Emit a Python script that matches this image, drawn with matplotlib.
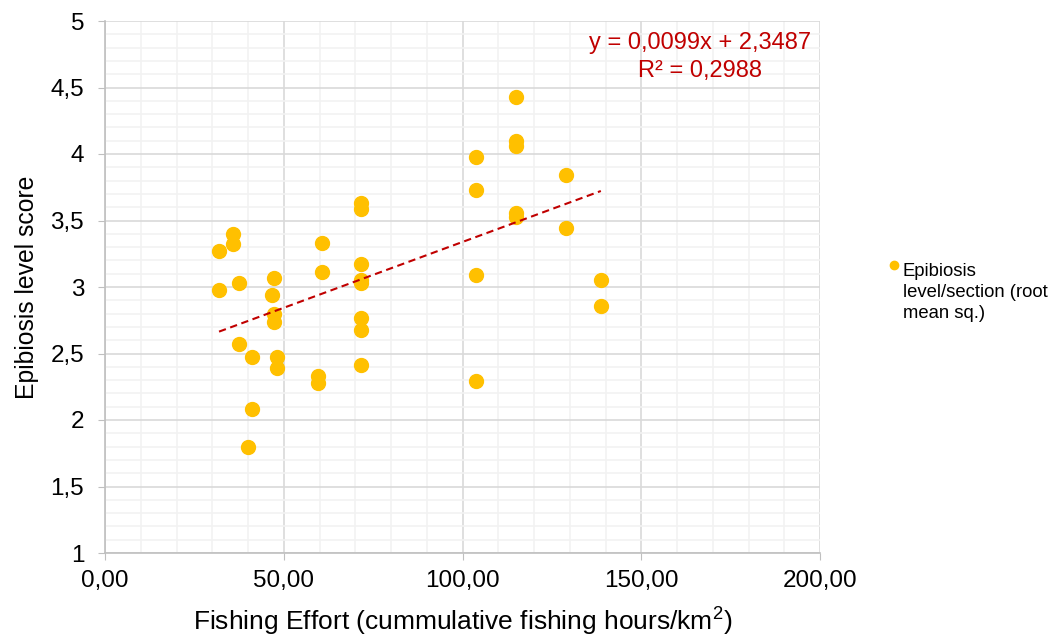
import numpy as np
import matplotlib
matplotlib.use("Agg")
import matplotlib.pyplot as plt
from matplotlib.ticker import MultipleLocator, FuncFormatter
from matplotlib.legend_handler import HandlerPathCollection

plt.rcParams["font.family"] = ["Liberation Sans", "DejaVu Sans"]
plt.rcParams["mathtext.fontset"] = "custom"
plt.rcParams["mathtext.rm"] = "Liberation Sans"
plt.rcParams["mathtext.default"] = "regular"

# Fishing effort (x) and epibiosis score (y)
effort = [31.9, 31.9, 35.8, 35.8, 37.5, 37.5, 41.1, 41.1, 40.0,
          47.3, 46.7, 47.3, 47.3, 48.1, 48.1,
          60.7, 60.7, 59.6, 59.6,
          71.6, 71.6, 71.6, 71.6, 71.6, 71.6, 71.6, 71.6,
          103.8, 103.8, 103.8, 103.8,
          115.0, 115.0, 115.0, 115.0, 115.0,
          129.0, 129.0, 138.7, 138.7]
score = [2.98, 3.27, 3.40, 3.32, 3.03, 2.57, 2.47, 2.08, 1.80,
         3.07, 2.94, 2.80, 2.74, 2.47, 2.39,
         3.33, 3.11, 2.33, 2.28,
         3.63, 3.59, 3.17, 3.05, 3.03, 2.77, 2.68, 2.41,
         3.98, 3.73, 3.09, 2.29,
         4.43, 4.10, 4.06, 3.56, 3.53,
         3.84, 3.44, 3.05, 2.86]

# trendline coefficients shown on the chart
slope = 0.0099
intercept = 2.3487
r2 = 0.2988

fig = plt.figure(figsize=(10.56, 6.41), dpi=100)
ax = fig.add_axes([105/1056, 1-553/641, 715/1056, 532/641])

ax.set_xlim(0, 200)
ax.set_ylim(1, 5)
ax.xaxis.set_major_locator(MultipleLocator(50))
ax.xaxis.set_minor_locator(MultipleLocator(10))
ax.yaxis.set_major_locator(MultipleLocator(0.5))
ax.yaxis.set_minor_locator(MultipleLocator(0.1))
ax.xaxis.set_major_formatter(FuncFormatter(lambda v, p: f"{v:.2f}".replace(".", ",")))
ax.yaxis.set_major_formatter(FuncFormatter(lambda v, p: f"{v:g}".replace(".", ",")))

ax.grid(which="minor", color="#f2f2f2", linewidth=1.2)
ax.grid(which="major", color="#d9d9d9", linewidth=1.2)
ax.set_axisbelow(True)
for s in ["top", "right"]:
    ax.spines[s].set_visible(False)
for s in ["left", "bottom"]:
    ax.spines[s].set_color("#bfbfbf")
    ax.spines[s].set_linewidth(1.2)
ax.tick_params(which="major", length=5, color="#bfbfbf", labelsize=17.5, labelcolor="#000000")
ax.tick_params(axis="y", pad=10)
ax.tick_params(axis="x", pad=7)
ax.tick_params(which="minor", length=0)

ax.scatter(effort, score, s=100, color="#FFC000", zorder=3,
           label="Epibiosis\nlevel/section (root\nmean sq.)")

xs = np.array([min(effort), max(effort)])
ax.plot(xs, slope * xs + intercept, color="#C00000", linestyle=(0, (3.5, 2.2)), linewidth=1.5, zorder=4)

ax.text(166.4, 4.73, f"y = {slope:.4f}x + {intercept:.4f}\nR² = {r2:.4f}".replace(".", ","),
        color="#C00000", fontsize=17, ha="center", va="center", linespacing=1.35,
        multialignment="center")

ax.set_xlabel("Fishing Effort (cummulative fishing hours/km$^{2}$)", fontsize=19, labelpad=10)
ax.set_ylabel("Epibiosis level score", fontsize=17.8, labelpad=8.5)

leg = ax.legend(loc="upper left", bbox_to_anchor=(1.0824, 0.559), frameon=False, fontsize=13.3,
                handletextpad=0.1, handlelength=0.8, markerscale=0.6, borderaxespad=0,
                handler_map={type(ax.collections[0]): HandlerPathCollection(yoffsets=[2.6])})
for t in leg.get_texts():
    t.set_linespacing(1.3)

fig.savefig("out.png", dpi=100)
